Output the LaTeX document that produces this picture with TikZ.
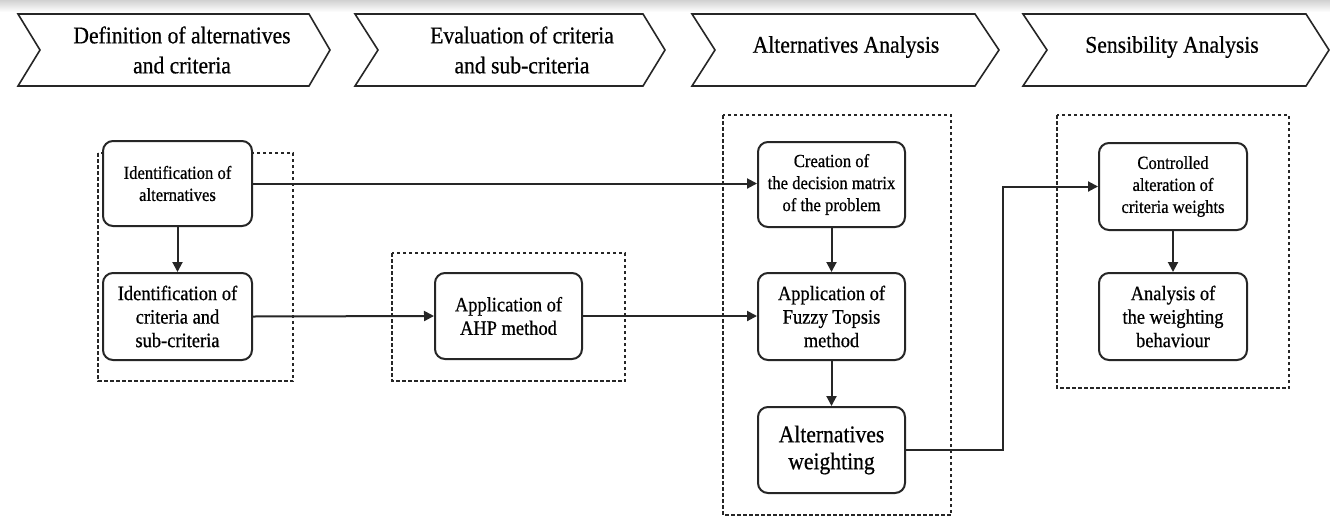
\documentclass[tikz,border=0pt]{standalone}
\usepackage{fontspec}
\setmainfont{Liberation Serif}
\newfontfamily\condserif[FakeStretch=0.9,FakeBold=0.6]{Liberation Serif}
\usetikzlibrary{arrows.meta}
\begin{document}
\begin{tikzpicture}[x=1pt,y=-1pt,
  chev/.style={draw=black!85, line width=1.6pt, fill=white},
  chevtext/.style={align=center, font=\condserif\fontsize{24}{30}\selectfont, inner sep=0pt},
  rbox/.style={draw=black!85, line width=2pt, rounded corners=10pt, align=center, inner sep=0pt, fill=white},
  fs/.style={font=\condserif\fontsize{18.5}{22}\selectfont},
  fm/.style={font=\condserif\fontsize{20.5}{23.5}\selectfont},
  fb/.style={font=\condserif\fontsize{24}{27}\selectfont},
  grp/.style={draw=black!85, dash pattern=on 3.5pt off 2.5pt, line width=1.6pt},
  arr/.style={-{Triangle[length=10pt,width=10pt]}, line width=2pt, draw=black!85},
]
\useasboundingbox (0,0) rectangle (1330,517);
\fill[white] (0,0) rectangle (1330,517);
\shade[top color=black!18, bottom color=white] (0,0) rectangle (1330,12);

% chevrons
\draw[chev] (18,14) -- (309,14) -- (330,50) -- (309,86) -- (18,86) -- (40,50) -- cycle;
\draw[chev] (355,14) -- (643,14) -- (665,50) -- (643,86) -- (355,86) -- (378,50) -- cycle;
\draw[chev] (692,14) -- (975,14) -- (999,50) -- (975,86) -- (692,86) -- (715,50) -- cycle;
\draw[chev] (1023,14) -- (1306,14) -- (1329,50) -- (1306,86) -- (1023,86) -- (1047,50) -- cycle;
\node[chevtext] (c1) at (182,50) {Definition of alternatives\\and criteria};
\node[chevtext] (c2) at (522,50) {Evaluation of criteria\\and sub-criteria};
\node[chevtext] (c3) at (846,47) {Alternatives Analysis};
\node[chevtext] (c4) at (1172,47) {Sensibility Analysis};

% dashed groups
\draw[grp] (98,153) rectangle (293,381);
\draw[grp] (392,253) rectangle (625,381);
\draw[grp] (723,115) rectangle (951,515);
\draw[grp] (1057,115) rectangle (1289,388);

% boxes
\node[rbox, fs, minimum width=149pt, minimum height=85pt] (ia) at (177.5,183.5) {Identification of\\alternatives};
\node[rbox, fm, minimum width=149pt, minimum height=87pt] (ic) at (177.5,316.5) {Identification of\\criteria and\\sub-criteria};
\node[rbox, fm, minimum width=147pt, minimum height=86pt] (ahp) at (508.5,316) {Application of\\AHP method};
\node[rbox, fs, minimum width=147pt, minimum height=85pt] (cre) at (831.5,184.5) {Creation of\\the decision matrix\\of the problem};
\node[rbox, fm, minimum width=147pt, minimum height=87pt] (fuz) at (831.5,316.5) {Application of\\Fuzzy Topsis\\method};
\node[rbox, fb, minimum width=147pt, minimum height=86pt] (wei) at (831.5,450) {Alternatives\\weighting};
\node[rbox, fs, minimum width=148pt, minimum height=87pt] (con) at (1173,186.5) {Controlled\\alteration of\\criteria weights};
\node[rbox, fm, minimum width=148pt, minimum height=87pt] (ana) at (1173,316.5) {Analysis of\\the weighting\\behaviour};

\coordinate (bend) at (1003,0);

% connectors
\draw[arr] (ia) -- (ic);
\draw[arr] (ia.east) -- (ia.east -| cre.west);
\draw[arr] (ic.east) -- (ahp.west);
\draw[arr] (ahp.east) -- (ahp.east -| fuz.west);
\draw[arr] (cre) -- (fuz);
\draw[arr] (fuz) -- (wei);
\draw[arr] (wei.east) -- (wei.east -| bend) |- (con.west);
\draw[arr] (con) -- (ana);
\end{tikzpicture}
\end{document}
